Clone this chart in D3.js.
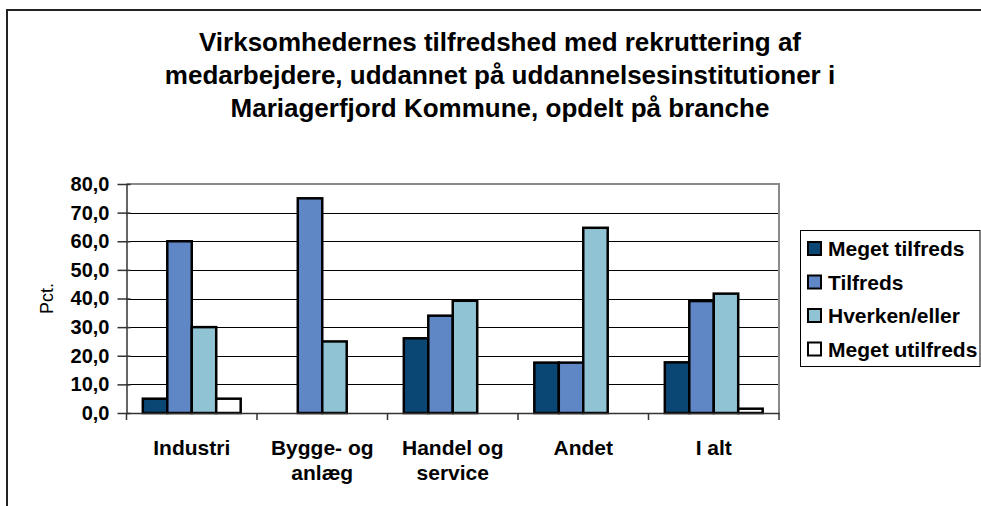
<!DOCTYPE html>
<html>
<head>
<meta charset="utf-8">
<script src="https://cdn.jsdelivr.net/npm/d3@7"></script>
<style>
  body { margin: 0; background: #fff; }
  text { font-family: "Liberation Sans", Arial, sans-serif; fill: #000; }
</style>
</head>
<body>
<div id="chart"></div>
<script>
// data
const titleLines = [
  "Virksomhedernes tilfredshed med rekruttering af",
  "medarbejdere, uddannet på uddannelsesinstitutioner i",
  "Mariagerfjord Kommune, opdelt på branche"
];
const categories = ["Industri", "Bygge- og\nanlæg", "Handel og\nservice", "Andet", "I alt"];
const seriesNames = ["Meget tilfreds", "Tilfreds", "Hverken/eller", "Meget utilfreds"];
const megetTilfreds = [5.0, 0, 26.1, 17.6, 17.7];
const tilfreds = [60.0, 75.0, 34.0, 17.6, 39.1];
const hverkenEller = [30.0, 25.0, 39.2, 64.7, 41.7];
const megetUtilfreds = [5.0, 0, 0, 0, 1.5];
const yTicks = [0, 10, 20, 30, 40, 50, 60, 70, 80];
const colors = ["#0b4774", "#5f87c6", "#90c3d3", "#ffffff"];

const seriesValues = [megetTilfreds, tilfreds, hverkenEller, megetUtilfreds];

const width = 981, height = 506;
const plot = { left: 126.5, right: 779, top: 184, bottom: 413 };

const svg = d3.select("#chart").append("svg")
  .attr("width", width).attr("height", height);

// outer chart border (runs off the right and bottom edge)
svg.append("path")
  .attr("d", `M7,${height + 5}V10H${width + 5}`)
  .attr("fill", "none").attr("stroke", "#222").attr("stroke-width", 2);

// title
svg.append("g").selectAll("text")
  .data(titleLines).enter().append("text")
  .attr("x", 500)
  .attr("y", (d, i) => 51 + i * 33)
  .attr("text-anchor", "middle")
  .style("font-size", "26px").style("font-weight", "bold")
  .text(d => d);

// scales
const x0 = d3.scaleBand().domain(d3.range(categories.length))
  .range([plot.left, plot.right]).paddingInner(0).paddingOuter(0);
const x1 = d3.scaleBand().domain(d3.range(seriesNames.length))
  .range([0, x0.bandwidth()]).paddingInner(0).paddingOuter(0.667);
const y = d3.scaleLinear().domain([0, 80]).range([plot.bottom, plot.top]);

const fmt = v => d3.format(".1f")(v).replace(".", ",");

// gridlines
svg.append("g").selectAll("line")
  .data(yTicks.filter(t => t > 0 && t < 80)).enter().append("line")
  .attr("x1", plot.left).attr("x2", plot.right)
  .attr("y1", d => Math.round(y(d)) + 0.5).attr("y2", d => Math.round(y(d)) + 0.5)
  .attr("stroke", "#000").attr("stroke-width", 1.2);

// plot area top/right border
svg.append("path")
  .attr("d", `M${plot.left},${plot.top}H${plot.right}V${plot.bottom}`)
  .attr("fill", "none").attr("stroke", "#8a8a8a").attr("stroke-width", 2);

// bars
const barData = [];
seriesValues.forEach((vals, s) => {
  vals.forEach((v, c) => { if (v > 0) barData.push({ s, c, v }); });
});
svg.append("g").selectAll("rect")
  .data(barData).enter().append("rect")
  .attr("x", d => x0(d.c) + x1(d.s))
  .attr("y", d => y(d.v))
  .attr("width", x1.bandwidth())
  .attr("height", d => y(0) - y(d.v))
  .attr("fill", d => colors[d.s])
  .attr("stroke", "#000").attr("stroke-width", 2.5);

// y axis
const yAxis = svg.append("g")
  .attr("transform", `translate(${plot.left},0)`)
  .call(d3.axisLeft(y).tickValues(yTicks).tickFormat(fmt).tickSize(0).tickPadding(17));
yAxis.select(".domain").attr("stroke", "#333").attr("stroke-width", 1.5);
yAxis.selectAll(".tick line").attr("x1", -9).attr("x2", 4)
  .attr("stroke", "#333").attr("stroke-width", 1.5);
yAxis.selectAll("text").style("font-size", "20px").style("font-weight", "bold")
  .attr("fill", "#000");

// x axis with ticks at category boundaries
const xAxis = svg.append("g")
  .attr("transform", `translate(0,${plot.bottom})`)
  .call(d3.axisBottom(x0).tickSize(0).tickFormat(""));
xAxis.select(".domain").attr("stroke", "#333").attr("stroke-width", 1.5);
xAxis.selectAll(".tick").remove();
xAxis.selectAll("line.sep")
  .data(d3.range(categories.length + 1)).enter().append("line")
  .attr("class", "sep")
  .attr("x1", d => d < categories.length ? x0(d) : plot.right)
  .attr("x2", d => d < categories.length ? x0(d) : plot.right)
  .attr("y1", 0).attr("y2", 7)
  .attr("stroke", "#333").attr("stroke-width", 1.5);

// category labels
const catLabels = svg.append("g").selectAll("text")
  .data(categories).enter().append("text")
  .attr("x", (d, i) => x0(i) + x0.bandwidth() / 2)
  .attr("y", 455)
  .attr("text-anchor", "middle")
  .style("font-size", "21px").style("font-weight", "bold");
catLabels.selectAll("tspan")
  .data(d => d.split("\n")).enter().append("tspan")
  .attr("x", function () { return this.parentNode.getAttribute("x"); })
  .attr("dy", (d, i) => i === 0 ? 0 : 25)
  .text(d => d);

// y axis title
svg.append("text")
  .attr("transform", `translate(53,${(plot.top + plot.bottom) / 2}) rotate(-90)`)
  .attr("text-anchor", "middle")
  .style("font-size", "18px")
  .text("Pct.");

// legend
const legend = svg.append("g");
legend.append("rect")
  .attr("x", 800.5).attr("y", 230.5).attr("width", 179.5).attr("height", 136)
  .attr("fill", "#fff").attr("stroke", "#000").attr("stroke-width", 1);
const items = legend.selectAll("g.item")
  .data(seriesNames).enter().append("g")
  .attr("class", "item")
  .attr("transform", (d, i) => `translate(808,${248.5 + i * 33.5})`);
items.append("rect")
  .attr("x", 0).attr("y", -6.5).attr("width", 13).attr("height", 13)
  .attr("fill", (d, i) => colors[i]).attr("stroke", "#000").attr("stroke-width", 2);
items.append("text")
  .attr("x", 20).attr("y", 7.5)
  .style("font-size", "21px").style("font-weight", "bold")
  .text(d => d);
</script>
</body>
</html>
